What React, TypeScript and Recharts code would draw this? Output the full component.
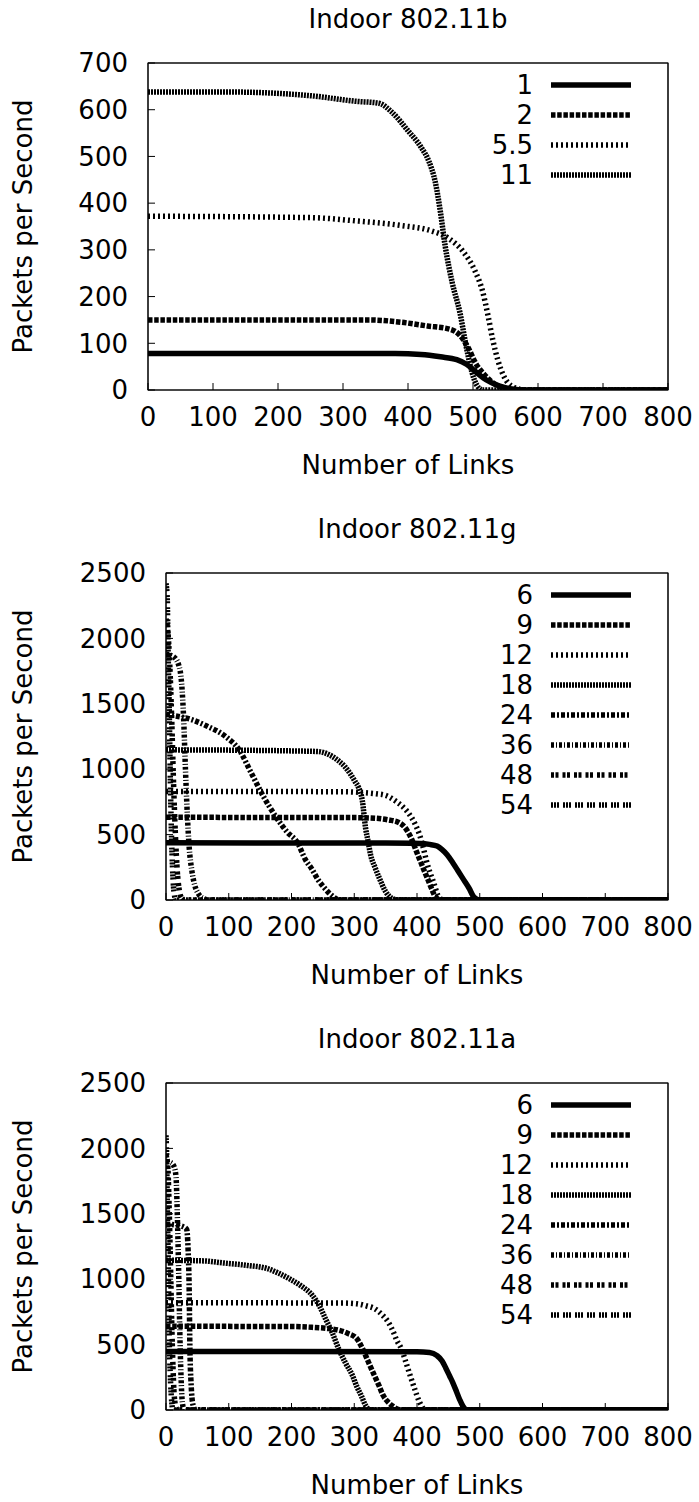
import { LineChart, Line, XAxis, YAxis, Legend, Label, ReferenceArea } from 'recharts'

type Pt = [number, number]

// ---- axis ticks & categories ----
const xTicks = [0, 100, 200, 300, 400, 500, 600, 700, 800]
const bTicks = [0, 100, 200, 300, 400, 500, 600, 700]
const ofdmTicks = [0, 500, 1000, 1500, 2000, 2500]

const bRates = ['1', '2', '5.5', '11']
const ofdmRates = ['6', '9', '12', '18', '24', '36', '48', '54']

// ---- Indoor 802.11b (links sorted by throughput) ----
const b1: Pt[] = [[0, 78], [380, 78], [420, 76], [450, 71], [475, 65], [490, 55], [505, 38], [520, 22], [540, 9], [560, 2], [580, 0], [800, 0]]
const b2: Pt[] = [[0, 150], [340, 150], [390, 145], [430, 137], [465, 130], [480, 117], [492, 92], [505, 55], [518, 32], [532, 14], [548, 4], [565, 0], [800, 0]]
const b55: Pt[] = [[0, 372], [250, 369], [320, 362], [390, 352], [435, 341], [462, 325], [485, 296], [503, 255], [515, 210], [523, 160], [530, 110], [538, 65], [548, 28], [560, 8], [580, 0], [800, 0]]
const b11: Pt[] = [[0, 638], [120, 638], [250, 630], [320, 618], [355, 614], [375, 595], [400, 555], [420, 520], [432, 490], [442, 445], [450, 380], [457, 310], [468, 230], [480, 165], [490, 90], [498, 40], [506, 10], [515, 0], [800, 0]]

// ---- Indoor 802.11g ----
const g6: Pt[] = [[0, 437], [350, 435], [405, 432], [420, 425], [432, 412], [440, 385], [448, 346], [457, 285], [466, 218], [475, 150], [483, 90], [491, 20], [500, 0], [800, 0]]
const g9: Pt[] = [[0, 632], [300, 630], [334, 625], [355, 612], [370, 595], [383, 540], [392, 460], [399, 372], [406, 290], [412, 218], [418, 150], [423, 90], [430, 20], [438, 0], [800, 0]]
const g12: Pt[] = [[0, 830], [280, 828], [312, 822], [335, 812], [350, 800], [366, 756], [378, 710], [388, 654], [396, 590], [404, 500], [410, 400], [415, 300], [420, 220], [426, 141], [434, 30], [442, 0], [800, 0]]
const g18: Pt[] = [[0, 1148], [120, 1145], [200, 1140], [242, 1135], [258, 1115], [275, 1064], [285, 1020], [294, 962], [302, 900], [307, 859], [313, 756], [318, 551], [322, 450], [326, 346], [333, 250], [340, 167], [350, 64], [361, 10], [370, 0], [800, 0]]
const g24: Pt[] = [[0, 1420], [10, 1412], [40, 1380], [65, 1330], [95, 1250], [117, 1145], [135, 980], [152, 820], [176, 630], [193, 520], [210, 435], [222, 310], [232, 240], [243, 150], [252, 95], [264, 35], [276, 0], [800, 0]]
const g36: Pt[] = [[0, 1880], [12, 1860], [20, 1800], [25, 1650], [28, 1400], [31, 1000], [34, 650], [37, 400], [41, 230], [46, 110], [52, 45], [60, 10], [68, 0], [800, 0]]
const g48: Pt[] = [[0, 2150], [3, 2050], [6, 1800], [9, 1400], [12, 900], [15, 500], [18, 220], [21, 80], [25, 15], [30, 0], [800, 0]]
const g54: Pt[] = [[0, 2420], [2, 2300], [3, 2000], [5, 1500], [7, 900], [9, 450], [11, 180], [13, 50], [16, 0], [800, 0]]

// ---- Indoor 802.11a ----
const a6: Pt[] = [[0, 447], [400, 445], [420, 440], [432, 415], [440, 375], [446, 320], [452, 260], [457, 210], [463, 140], [468, 80], [473, 30], [480, 0], [800, 0]]
const a9: Pt[] = [[0, 640], [200, 638], [233, 632], [260, 622], [275, 610], [290, 585], [304, 546], [311, 490], [318, 418], [325, 340], [332, 265], [340, 180], [346, 112], [354, 60], [361, 30], [375, 0], [800, 0]]
const a12: Pt[] = [[0, 820], [280, 818], [304, 812], [320, 795], [332, 776], [344, 730], [354, 673], [362, 600], [368, 530], [375, 469], [382, 370], [389, 265], [396, 165], [404, 61], [414, 0], [800, 0]]
const a18: Pt[] = [[0, 1145], [60, 1140], [90, 1125], [130, 1105], [161, 1082], [180, 1045], [196, 1005], [215, 950], [233, 878], [244, 800], [254, 699], [265, 590], [275, 469], [286, 360], [297, 265], [304, 180], [311, 112], [318, 35], [326, 0], [800, 0]]
const a24: Pt[] = [[0, 1420], [15, 1415], [28, 1400], [33, 1380], [35, 1250], [37, 900], [38, 500], [40, 200], [43, 40], [47, 0], [800, 0]]
const a36: Pt[] = [[0, 1900], [8, 1890], [13, 1860], [16, 1780], [18, 1500], [20, 1100], [22, 600], [24, 250], [26, 60], [29, 0], [800, 0]]
const a48: Pt[] = [[0, 1950], [3, 1850], [5, 1550], [7, 1150], [9, 700], [11, 350], [13, 120], [16, 20], [19, 0], [800, 0]]
const a54: Pt[] = [[0, 2100], [1, 1950], [2, 1600], [4, 1000], [5, 600], [7, 250], [9, 70], [11, 0], [800, 0]]

// gnuplot-ish dash types, in legend order
const DASHES = [undefined, '4.5 1.7', '2 3', '2 1', '4 2 2 2', '3 2 1 2', '3 1.5 3 4', '2 1 2 1 2 4']
const FONT = '"DejaVu Sans", sans-serif'
const LW = 5.5
const toRows = (pts: Pt[]) => pts.map(([x, y]) => ({ x, y }))

const LegendBox = ({ rates }: { rates: string[] }) => (
  <svg width={200} height={rates.length * 30}>
    {rates.map((r, i) => (
      <g key={r}>
        <text x={90} y={15 + i * 30} dy="0.36em" textAnchor="end" fontSize={26} fontFamily={FONT} fill="#000">
          {r}
        </text>
        <line x1={108} x2={188} y1={15 + i * 30} y2={15 + i * 30} stroke="#000" strokeWidth={LW} strokeDasharray={DASHES[i]} />
      </g>
    ))}
  </svg>
)

function Panel({ top, title, rates, series, yTicks, plotLeft }: {
  top: number; title: string; rates: string[]; series: Pt[][]; yTicks: number[]; plotLeft: number
}) {
  const yMax = yTicks[yTicks.length - 1]
  const tickStyle = { fill: '#000', fontSize: 26, fontFamily: FONT }
  return (
    <div style={{ position: 'absolute', left: 0, top, width: 699, height: 500 }}>
      <div style={{ position: 'absolute', top: 4, left: plotLeft, width: 668 - plotLeft, textAlign: 'center', fontFamily: FONT, fontSize: 26, lineHeight: '30px', color: '#000' }}>
        {title}
      </div>
      <LineChart width={699} height={500} margin={{ top: 62, right: 30, bottom: 0, left: 0 }}>
        <XAxis type="number" dataKey="x" domain={[0, 800]} ticks={xTicks} interval={0} allowDataOverflow height={110}
          tickSize={-7} tickMargin={25} stroke="#000" tick={tickStyle}>
          <Label value="Number of Links" position="insideBottom" offset={26} fill="#000" fontSize={26} fontFamily={FONT} />
        </XAxis>
        <XAxis xAxisId="top" orientation="top" type="number" dataKey="x" domain={[0, 800]} ticks={xTicks} interval={0}
          allowDataOverflow height={1} tickSize={-7} tick={false} stroke="#000" />
        <YAxis type="number" domain={[0, yMax]} ticks={yTicks} interval={0} allowDataOverflow width={plotLeft}
          tickSize={-7} tickMargin={27} stroke="#000" tick={tickStyle}>
          <Label value="Packets per Second" angle={-90} position="insideLeft" offset={23} fill="#000" fontSize={26}
            fontFamily={FONT} style={{ textAnchor: 'middle' }} />
        </YAxis>
        <YAxis yAxisId="right" orientation="right" type="number" domain={[0, yMax]} ticks={yTicks} interval={0}
          allowDataOverflow width={1} tickSize={-7} tick={false} stroke="#000" />
        <ReferenceArea x1={0} x2={800} y1={0} y2={yMax} fill="none" stroke="#222" strokeWidth={1.2} ifOverflow="visible" />
        <Legend layout="vertical" align="center" verticalAlign="middle" content={() => <LegendBox rates={rates} />}
          wrapperStyle={{ left: 443, top: 70, width: 200 }} />
        {/* invisible copy on the mirror axes so the top/right tics get drawn */}
        <Line xAxisId="top" yAxisId="right" data={toRows(series[0])} dataKey="y" stroke="none" dot={false}
          activeDot={false} legendType="none" isAnimationActive={false} />
        {series.map((pts, i) => (
          <Line key={rates[i]} name={rates[i]} data={toRows(pts)} dataKey="y" type="monotone" stroke="#000"
            strokeWidth={LW} strokeDasharray={DASHES[i]} strokeLinecap="butt" dot={false} activeDot={false}
            isAnimationActive={false} />
        ))}
      </LineChart>
    </div>
  )
}

export default function App() {
  return (
    <div style={{ position: 'absolute', left: 0, top: 0, width: 699, height: 1502, overflow: 'hidden', background: '#fff' }}>
      <Panel top={0} title="Indoor 802.11b" rates={bRates} series={[b1, b2, b55, b11]} yTicks={bTicks} plotLeft={148} />
      <Panel top={510} title="Indoor 802.11g" rates={ofdmRates} series={[g6, g9, g12, g18, g24, g36, g48, g54]}
        yTicks={ofdmTicks} plotLeft={166} />
      <Panel top={1020} title="Indoor 802.11a" rates={ofdmRates} series={[a6, a9, a12, a18, a24, a36, a48, a54]}
        yTicks={ofdmTicks} plotLeft={166} />
    </div>
  )
}
